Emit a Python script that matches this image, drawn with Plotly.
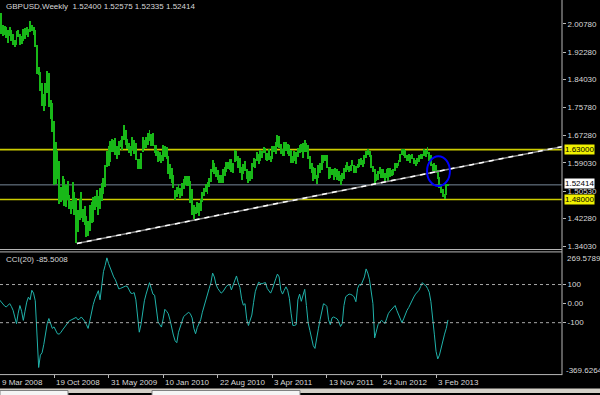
import pandas as pd
import plotly.graph_objects as go

# ---------------- data ----------------
start_week = "2008-03-09"
n_weeks = 264

highs = [
    2.036, 2.040, 2.003, 2.000, 1.998, 1.988, 1.998, 1.990, 1.976, 1.960,
    1.985, 1.990, 1.977, 1.972, 1.992, 1.994, 1.998, 1.993, 2.016, 2.003,
    1.999, 1.990, 1.945, 1.878, 1.862, 1.830, 1.797, 1.829, 1.866, 1.860,
    1.778, 1.770, 1.715, 1.653, 1.625, 1.595, 1.517, 1.551, 1.543, 1.523,
    1.537, 1.494, 1.475, 1.534, 1.504, 1.485, 1.449, 1.483, 1.502, 1.453,
    1.460, 1.431, 1.417, 1.463, 1.474, 1.488, 1.490, 1.510, 1.490, 1.514,
    1.531, 1.545, 1.585, 1.627, 1.640, 1.657, 1.663, 1.658, 1.664, 1.640,
    1.655, 1.659, 1.672, 1.704, 1.690, 1.663, 1.650, 1.640, 1.669, 1.658,
    1.651, 1.601, 1.603, 1.621, 1.669, 1.660, 1.667, 1.680, 1.688, 1.677,
    1.680, 1.645, 1.644, 1.627, 1.623, 1.615, 1.644, 1.640, 1.637, 1.612,
    1.586, 1.576, 1.555, 1.510, 1.518, 1.528, 1.516, 1.531, 1.541, 1.551,
    1.550, 1.551, 1.537, 1.513, 1.464, 1.459, 1.473, 1.469, 1.483, 1.502,
    1.514, 1.527, 1.532, 1.545, 1.572, 1.600, 1.590, 1.577, 1.570, 1.554,
    1.555, 1.573, 1.577, 1.592, 1.594, 1.603, 1.601, 1.589, 1.630, 1.627,
    1.612, 1.604, 1.578, 1.586, 1.595, 1.573, 1.565, 1.566, 1.590, 1.605,
    1.602, 1.623, 1.617, 1.629, 1.627, 1.637, 1.634, 1.621, 1.633, 1.612,
    1.642, 1.642, 1.654, 1.675, 1.670, 1.648, 1.633, 1.654, 1.654, 1.647,
    1.645, 1.628, 1.611, 1.626, 1.623, 1.636, 1.644, 1.647, 1.651, 1.660,
    1.650, 1.643, 1.611, 1.589, 1.579, 1.575, 1.555, 1.584, 1.589, 1.614,
    1.614, 1.615, 1.615, 1.579, 1.578, 1.572, 1.571, 1.574, 1.572, 1.566,
    1.554, 1.561, 1.576, 1.584, 1.594, 1.580, 1.583, 1.598, 1.585, 1.581,
    1.588, 1.603, 1.604, 1.598, 1.614, 1.626, 1.631, 1.627, 1.613, 1.582,
    1.572, 1.557, 1.566, 1.578, 1.572, 1.571, 1.560, 1.571, 1.575, 1.574,
    1.569, 1.573, 1.590, 1.589, 1.598, 1.617, 1.631, 1.631, 1.629, 1.615,
    1.616, 1.613, 1.617, 1.604, 1.599, 1.604, 1.613, 1.616, 1.618, 1.631,
    1.629, 1.638, 1.624, 1.613, 1.587, 1.590, 1.585, 1.568, 1.547, 1.527,
    1.512, 1.496, 1.527, 1.5258,
]

lows = [
    2.008, 1.977, 1.970, 1.975, 1.965, 1.951, 1.972, 1.956, 1.944, 1.939,
    1.945, 1.968, 1.945, 1.946, 1.955, 1.962, 1.975, 1.969, 1.982, 1.985,
    1.973, 1.938, 1.856, 1.853, 1.805, 1.760, 1.745, 1.760, 1.800, 1.758,
    1.722, 1.682, 1.524, 1.528, 1.543, 1.466, 1.472, 1.478, 1.460, 1.459,
    1.479, 1.451, 1.437, 1.452, 1.433, 1.348, 1.383, 1.420, 1.425, 1.412,
    1.405, 1.366, 1.371, 1.385, 1.410, 1.414, 1.450, 1.459, 1.433, 1.451,
    1.475, 1.497, 1.519, 1.577, 1.581, 1.594, 1.623, 1.622, 1.615, 1.601,
    1.613, 1.637, 1.629, 1.660, 1.643, 1.633, 1.620, 1.612, 1.630, 1.618,
    1.598, 1.572, 1.571, 1.573, 1.623, 1.631, 1.634, 1.644, 1.657, 1.641,
    1.640, 1.620, 1.612, 1.592, 1.596, 1.591, 1.595, 1.609, 1.603, 1.557,
    1.543, 1.530, 1.515, 1.478, 1.487, 1.496, 1.486, 1.492, 1.511, 1.523,
    1.521, 1.520, 1.470, 1.435, 1.423, 1.436, 1.439, 1.431, 1.446, 1.474,
    1.490, 1.504, 1.498, 1.519, 1.534, 1.563, 1.556, 1.547, 1.540, 1.531,
    1.530, 1.531, 1.550, 1.562, 1.571, 1.570, 1.563, 1.560, 1.592, 1.595,
    1.575, 1.561, 1.538, 1.558, 1.565, 1.541, 1.530, 1.537, 1.543, 1.577,
    1.574, 1.595, 1.587, 1.597, 1.605, 1.619, 1.598, 1.597, 1.598, 1.592,
    1.603, 1.623, 1.616, 1.639, 1.635, 1.617, 1.610, 1.612, 1.627, 1.617,
    1.610, 1.590, 1.591, 1.597, 1.588, 1.609, 1.620, 1.624, 1.604, 1.622,
    1.622, 1.603, 1.572, 1.560, 1.535, 1.542, 1.527, 1.546, 1.559, 1.570,
    1.590, 1.597, 1.574, 1.543, 1.546, 1.553, 1.540, 1.549, 1.540, 1.537,
    1.523, 1.535, 1.542, 1.562, 1.569, 1.563, 1.567, 1.580, 1.561, 1.560,
    1.576, 1.578, 1.584, 1.579, 1.588, 1.604, 1.613, 1.608, 1.576, 1.562,
    1.527, 1.535, 1.539, 1.557, 1.544, 1.545, 1.537, 1.546, 1.537, 1.547,
    1.551, 1.555, 1.567, 1.575, 1.581, 1.594, 1.614, 1.610, 1.606, 1.597,
    1.597, 1.591, 1.602, 1.587, 1.581, 1.587, 1.594, 1.601, 1.602, 1.612,
    1.607, 1.617, 1.596, 1.580, 1.567, 1.567, 1.560, 1.541, 1.514, 1.499,
    1.489, 1.481, 1.495, 1.5234,
]

cci = [
    20, 10, -5, -12, -18, -8, 0, -15, -35, -70,
    -105, -50, -10, -40, -88, -40, 8, 34, 20, 70,
    55, 15, -140, -335, -270, -258, -215, -165, -105, -78,
    -105, -130, -122, -145, -158, -160, -152, -138, -125, -110,
    -100, -90, -86, -80, -75, -72, -85, -80, -70, -80,
    -92, -110, -130, -90, -38, -5, 25, 48, 68, 20,
    100, 168, 200, 240, 210, 185, 160, 140, 125, 95,
    77, 80, 84, 88, 92, 90, 72, 55, 53, 58,
    20, -65, -150, -110, -30, 15, 50, 85, 110, 80,
    50, 44, -20, -95, -110, -123, -80, -30, -40, -53,
    -85, -132, -165, -195, -205, -150, -118, -90, -68, -60,
    -50, -45, -55, -75, -130, -158, -125, -105, -85, -45,
    -10, 20, 50, 80, 110, 160, 140, 100, 80, 65,
    55, 62, 80, 90, 98, 100, 72, 95, 125, 145,
    110, 85, 25, -8, 0, -80, -115, -90, -60, 5,
    62, 90, 112, 106, 104, 108, 110, 80, 68, 55,
    75, 110, 130, 155, 140, 70, 50, 70, 88, 70,
    28, -50, -114, -115, -110, 20, 50, 12, 40, 75,
    -10, -100, -140, -180, -220, -235, -175, -132, -85, -40,
    -1, -5, -15, -85, -110, -75, -70, -75, -80, -95,
    -120, -105, -10, 36, 45, 50, 48, 44, 35, 10,
    80, 100, 96, 115, 140, 182, 160, 125, 70, 0,
    -180, -150, -110, -98, -88, -95, -105, -80, -53, -40,
    -30, -15, -10, -35, -60, -85, -100, -80, -55, -35,
    -20, 0, 20, 35, 50, 60, 70, 90, 110, 100,
    95, 80, 60, 10, -60, -160, -250, -290, -270, -230,
    -200, -160, -130, -85.5,
]

title_text = "GBPUSD,Weekly  1.52400 1.52575 1.52335 1.52414"
cci_title = "CCI(20) -85.5008"

price_range = [1.3307, 2.0796]
price_tick_vals = [2.00780, 1.92280, 1.84030, 1.75780, 1.67280, 1.59030, 1.50530, 1.42280, 1.34030]
price_tick_text = ["2.00780", "1.92280", "1.84030", "1.75780", "1.67280", "1.59030", "1.50530", "1.42280", "1.34030"]

cci_max = 269.5789
cci_min = -369.6264
cci_tick_vals = [100, 0, -100]
cci_tick_text = ["100", "0.00", "-100"]
cci_levels = [100, -100]

date_tick_dates = ["2008-03-09", "2008-10-19", "2009-05-31", "2010-01-10", "2010-08-22",
                   "2011-04-03", "2011-11-13", "2012-06-24", "2013-02-03"]
date_tick_text = ["9 Mar 2008", "19 Oct 2008", "31 May 2009", "10 Jan 2010", "22 Aug 2010",
                  "3 Apr 2011", "13 Nov 2011", "24 Jun 2012", "3 Feb 2013"]
x_range = ["2008-03-11 08:00", "2014-07-05"]

level_lines = [1.63000, 1.48000]
level_text = ["1.63000", "1.48000"]
bid_price = 1.52414
bid_text = "1.52414"

trend_dates = ["2009-01-21", "2014-07-05"]
trend_prices = [1.348, 1.639]

ellipse_dates = ["2012-12-28", "2013-04-01"]
ellipse_prices = [1.5205, 1.6102]

# ---------------- styling ----------------
W, H = 600, 395
plot_right = 562 / W
price_dom = [1 - 250.5 / H, 1.0]
cci_dom = [1 - 376 / H, 1 - 253.5 / H]
FONT = "Liberation Sans, Arial, sans-serif"
FS = 8
TXT = "#d8d8d8"
GREEN = "#18b818"
FRAME = "#b8b8b8"

dates = pd.date_range(start_week, periods=n_weeks, freq="7D")
ranges = [h - l for h, l in zip(highs, lows)]

fig = go.Figure()

fig.add_trace(go.Bar(
    x=dates, y=ranges, base=lows, width=4.0 * 86400000,
    marker=dict(color=GREEN, line=dict(width=0)),
    xaxis="x", yaxis="y", hoverinfo="skip", showlegend=False,
))

# trendline: grey base + white dashes
fig.add_trace(go.Scatter(x=trend_dates, y=trend_prices, mode="lines",
                         line=dict(color="#8c8c8c", width=1.5),
                         xaxis="x", yaxis="y", showlegend=False, hoverinfo="skip"))
fig.add_trace(go.Scatter(x=trend_dates, y=trend_prices, mode="lines",
                         line=dict(color="#ffffff", width=1.5, dash="5px,5px"),
                         xaxis="x", yaxis="y", showlegend=False, hoverinfo="skip"))

fig.add_trace(go.Scatter(x=dates, y=cci, mode="lines",
                         line=dict(color="#20b2aa", width=1),
                         xaxis="x", yaxis="y2", showlegend=False, hoverinfo="skip"))

shapes = []
for lv in level_lines:
    shapes.append(dict(type="line", xref="paper", yref="y", x0=0, x1=plot_right, y0=lv, y1=lv,
                       line=dict(color="#cccc00", width=1.6), layer="below"))
shapes.append(dict(type="line", xref="paper", yref="y", x0=0, x1=plot_right, y0=bid_price, y1=bid_price,
                   line=dict(color="#778899", width=1), layer="below"))
for lv in cci_levels:
    shapes.append(dict(type="line", xref="paper", yref="y2", x0=0, x1=plot_right, y0=lv, y1=lv,
                       line=dict(color="#a8a8a8", width=1, dash="3px,3px")))
shapes.append(dict(type="circle", xref="x", yref="y",
                   x0=ellipse_dates[0], x1=ellipse_dates[1],
                   y0=ellipse_prices[0], y1=ellipse_prices[1],
                   line=dict(color="#0000ff", width=2)))
# frame
shapes.append(dict(type="line", xref="paper", yref="paper", x0=plot_right, x1=plot_right,
                   y0=1 - 377 / H, y1=1, line=dict(color=FRAME, width=1)))
shapes.append(dict(type="line", xref="paper", yref="paper", x0=0, x1=plot_right,
                   y0=1 - 376.5 / H, y1=1 - 376.5 / H, line=dict(color=FRAME, width=1)))
for yy in (250.8, 253.2):
    shapes.append(dict(type="line", xref="paper", yref="paper", x0=0, x1=plot_right,
                       y0=1 - yy / H, y1=1 - yy / H, line=dict(color=FRAME, width=1)))
# bottom window strip
shapes.append(dict(type="rect", xref="paper", yref="paper", x0=0, x1=1, y0=0, y1=1 - 390.5 / H,
                   fillcolor="#d4d0c8", line=dict(width=0)))
for a, b in ((0, 68), (152, 300)):
    shapes.append(dict(type="rect", xref="paper", yref="paper", x0=a / W, x1=b / W,
                       y0=-0.01, y1=1 - 392.5 / H, fillcolor="#f4f4f4",
                       line=dict(color="#808080", width=1)))

annotations = []
annotations.append(dict(text=title_text, xref="paper", yref="paper", x=4 / W, y=1 - 7 / H,
                        xanchor="left", yanchor="middle", showarrow=False,
                        font=dict(family=FONT, size=FS, color=TXT)))
annotations.append(dict(text=cci_title, xref="paper", yref="paper", x=4 / W, y=1 - 261 / H,
                        xanchor="left", yanchor="middle", showarrow=False,
                        font=dict(family=FONT, size=FS, color=TXT)))
range_start = pd.Timestamp(x_range[0])
for d, t in zip(date_tick_dates, date_tick_text):
    xd = max(pd.Timestamp(d), range_start)
    annotations.append(dict(text=t, xref="x", yref="paper", x=xd, y=1 - 384 / H,
                            xanchor="left", yanchor="middle", xshift=0, showarrow=False,
                            font=dict(family=FONT, size=FS, color=TXT)))
for v, t in zip(level_lines, level_text):
    annotations.append(dict(text=t, xref="paper", yref="y", x=plot_right, y=v, xshift=2,
                            xanchor="left", yanchor="middle", showarrow=False,
                            bgcolor="#f0f000", borderpad=0,
                            font=dict(family=FONT, size=FS, color="#000000")))
annotations.append(dict(text=bid_text, xref="paper", yref="y", x=plot_right, y=bid_price, xshift=2,
                        yshift=1, xanchor="left", yanchor="middle", showarrow=False,
                        bgcolor="#ffffff", borderpad=0,
                        font=dict(family=FONT, size=FS, color="#000000")))
annotations.append(dict(text=f"{cci_max:.4f}", xref="paper", yref="y2", x=plot_right, y=cci_max,
                        xshift=3, yshift=-6, xanchor="left", yanchor="middle", showarrow=False,
                        font=dict(family=FONT, size=FS, color=TXT)))
annotations.append(dict(text=f"{cci_min:.4f}", xref="paper", yref="y2", x=plot_right, y=cci_min,
                        xshift=2, yshift=4, xanchor="left", yanchor="middle", showarrow=False,
                        font=dict(family=FONT, size=FS, color=TXT)))

fig.update_layout(
    width=W, height=H,
    margin=dict(l=0, r=0, t=0, b=0),
    paper_bgcolor="#000000", plot_bgcolor="#000000",
    showlegend=False, bargap=0,
    xaxis=dict(type="date", domain=[0, plot_right], range=x_range, anchor="y2",
               showgrid=False, zeroline=False, showline=False,
               tickmode="array", tickvals=date_tick_dates, showticklabels=False,
               ticks="outside", ticklen=3, tickcolor=FRAME),
    yaxis=dict(domain=price_dom, range=price_range, anchor="x", side="right",
               showgrid=False, zeroline=False, showline=False,
               tickmode="array", tickvals=price_tick_vals, ticktext=price_tick_text,
               ticks="outside", ticklen=3, tickcolor=FRAME,
               tickfont=dict(family=FONT, size=FS, color=TXT)),
    yaxis2=dict(domain=cci_dom, range=[cci_min, cci_max], anchor="x", side="right",
                showgrid=False, zeroline=False, showline=False,
                tickmode="array", tickvals=cci_tick_vals, ticktext=cci_tick_text,
                ticks="outside", ticklen=3, tickcolor=FRAME,
                tickfont=dict(family=FONT, size=FS, color=TXT)),
    shapes=shapes, annotations=annotations,
)

fig.write_html(
    "out.html",
    config={"displayModeBar": False},
    post_script="document.body.style.margin='0px';document.body.style.padding='0px';"
                "document.body.style.overflow='hidden';"
                "document.body.style.background='#000';",
)
